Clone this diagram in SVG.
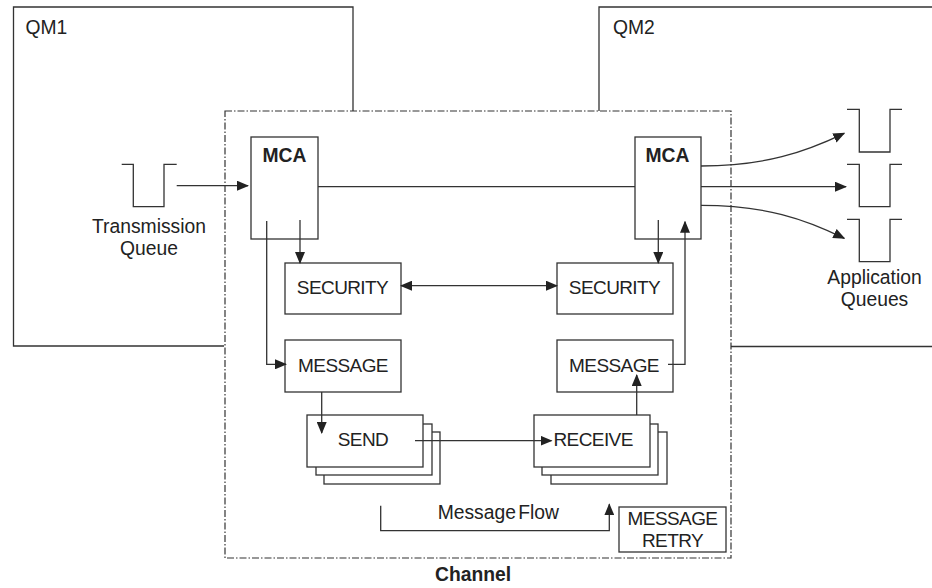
<svg xmlns="http://www.w3.org/2000/svg" width="932" height="588" viewBox="0 0 932 588">
<style>
.ln{fill:none;stroke:#333;stroke-width:1.3}
.bx{fill:#fff;stroke:#333;stroke-width:1.3}
.t{font-family:"Liberation Sans",Arial,sans-serif;font-size:19.3px;fill:#222}
.u{font-size:19px;letter-spacing:-0.6px}
.c{text-anchor:middle}
.b{font-weight:bold}
.ch{fill:none;stroke:#333;stroke-width:1.2;stroke-dasharray:7 2 1.5 2}
.ar{marker-end:url(#ah)}
</style>
<defs>
<marker id="ah" viewBox="0 0 12 10" refX="11" refY="5" markerWidth="12" markerHeight="10" markerUnits="userSpaceOnUse" orient="auto-start-reverse">
<path d="M0,0 L12,5 L0,10 z" fill="#222"/>
</marker>
</defs>
<g id="qm1">
<path class="ln" d="M224,346 H13.5 V7 H353 V111"/>
<text class="t" x="25.5" y="34">QM1</text>
</g>
<g id="qm2">
<path class="ln" d="M599,111 V7 H933"/>
<path class="ln" d="M731,346.5 H933"/>
<text class="t" x="613" y="33.5">QM2</text>
</g>
<g id="channel">
<rect class="ch" x="225" y="111" width="506" height="447"/>
<text class="t c b" x="473" y="581">Channel</text>
</g>
<g id="transmission-queue">
<path class="ln" d="M121.7,164.3 H133.3 V206.7 H164 V164.3 H176.7"/>
<text class="t c" x="149" y="233">Transmission</text>
<text class="t c" x="149" y="255">Queue</text>
</g>
<g id="application-queues">
<path class="ln" d="M847,109.3 H859.3 V152 H890 V109.3 H902"/>
<path class="ln" d="M847,164.3 H859.3 V206.7 H890 V164.3 H902"/>
<path class="ln" d="M847,219.3 H859.3 V261.7 H890 V219.3 H902"/>
<text class="t c" x="874.5" y="284">Application</text>
<text class="t c" x="874.5" y="306">Queues</text>
</g>
<g id="mca-left">
<rect class="bx" x="251" y="137" width="67" height="102"/>
<text class="t c b" x="284.5" y="161.5">MCA</text>
</g>
<g id="mca-right">
<rect class="bx" x="635" y="137" width="66" height="102"/>
<text class="t c b" x="667.5" y="161.5">MCA</text>
</g>
<g id="security-left">
<rect class="bx" x="285" y="263" width="116" height="51"/>
<text class="t u c" x="342.5" y="294">SECURITY</text>
</g>
<g id="security-right">
<rect class="bx" x="557" y="263" width="116" height="51"/>
<text class="t u c" x="614.5" y="294">SECURITY</text>
</g>
<g id="message-left">
<rect class="bx" x="285" y="340" width="116" height="52"/>
<text class="t u c" x="343" y="372">MESSAGE</text>
</g>
<g id="message-right">
<rect class="bx" x="557" y="340" width="116" height="52"/>
<text class="t u c" x="614" y="372">MESSAGE</text>
</g>
<g id="send">
<rect class="bx" x="324" y="432" width="116" height="52"/>
<rect class="bx" x="316" y="424" width="116" height="51"/>
<rect class="bx" x="307" y="415" width="116" height="52"/>
<text class="t u c" x="363" y="446">SEND</text>
</g>
<g id="receive">
<rect class="bx" x="551" y="432" width="116" height="52"/>
<rect class="bx" x="542" y="424" width="116" height="51"/>
<rect class="bx" x="534" y="415" width="116" height="52"/>
<text class="t u" x="553.5" y="446">RECEIVE</text>
</g>
<g id="message-retry">
<rect class="bx" x="619" y="507" width="107" height="45"/>
<text class="t u c" x="672.5" y="525">MESSAGE</text>
<text class="t u c" x="672.5" y="547">RETRY</text>
</g>
<g id="connectors">
<path class="ln ar" d="M176.7,185.7 H248"/>
<path class="ln" d="M318,186.7 H635"/>
<path class="ln ar" d="M300,220 V263"/>
<path class="ln ar" d="M266.7,221 V364.3 H286"/>
<path class="ln ar" d="M401,285.7 H557" marker-start="url(#ah)"/>
<path class="ln ar" d="M321.7,392 V433"/>
<path class="ln ar" d="M415,440.7 H551.5"/>
<path class="ln ar" d="M636.7,415 V375"/>
<path class="ln ar" d="M668,364.3 H685 V221.7"/>
<path class="ln ar" d="M658.3,220 V263"/>
<path class="ln ar" d="M701,166 C765,166 805,152 844.3,133.3"/>
<path class="ln ar" d="M701,186.7 H846"/>
<path class="ln ar" d="M701,205.3 C765,205.3 805,219 844.3,238.3"/>
<path class="ln ar" d="M380.7,505.7 V530.7 H609.3 V504.3"/>
<text class="t" x="437.7" y="519" word-spacing="-3">Message Flow</text>
</g>
</svg>
